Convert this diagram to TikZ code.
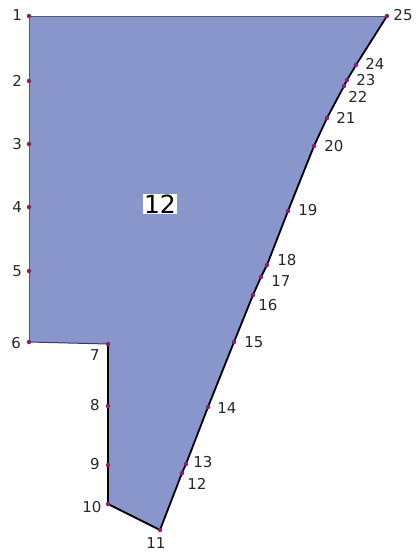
\documentclass[tikz,border=0pt]{standalone}
\usepackage{fontspec}
\setmainfont{DejaVu Sans}
\begin{document}
\begin{tikzpicture}[x=1pt,y=-1pt,
  dot/.style={circle,fill=dotc,inner sep=0pt,minimum size=4.5pt},
  lab/.style={font=\fontsize{15}{15}\selectfont,text=labc,inner sep=1pt}]
\definecolor{fillc}{RGB}{136,150,204}
\definecolor{dotc}{RGB}{140,30,110}
\definecolor{labc}{RGB}{40,40,40}
\useasboundingbox (0,0) rectangle (417,552);
% vertices
\coordinate (p1) at (29,16);
\coordinate (p2) at (29,81);
\coordinate (p3) at (29,144);
\coordinate (p4) at (29,207);
\coordinate (p5) at (29,271);
\coordinate (p6) at (29,342);
\coordinate (p7) at (108,344);
\coordinate (p8) at (108,406);
\coordinate (p9) at (108,465);
\coordinate (p10) at (108,504);
\coordinate (p11) at (160,530);
\coordinate (p12) at (182,473);
\coordinate (p13) at (186,464);
\coordinate (p14) at (208,407);
\coordinate (p15) at (234,342);
\coordinate (p16) at (253,295);
\coordinate (p17) at (261,277);
\coordinate (p18) at (267,265);
\coordinate (p19) at (288,211);
\coordinate (p20) at (314,146);
\coordinate (p21) at (327,118);
\coordinate (p22) at (344,86);
\coordinate (p23) at (347,80);
\coordinate (p24) at (356,65);
\coordinate (p25) at (387,16);
\fill[fillc] (p1) -- (p6) -- (p7) -- (p10) -- (p11) -- (p12) -- (p13) -- (p14)
  -- (p15) -- (p16) -- (p17) -- (p18) -- (p19) -- (p20) -- (p21) -- (p22)
  -- (p23) -- (p24) -- (p25) -- cycle;
\draw[line width=0.9pt,draw={rgb,255:red,80;green,90;blue,120}] (p25) -- (p1) -- (p6);
\draw[line width=1pt,draw={rgb,255:red,60;green,60;blue,80}] (p6) -- (p7);
\draw[line width=1.8pt,black,line join=round] (p7) -- (p10) -- (p11) -- (p12) -- (p13) -- (p14)
  -- (p15) -- (p16) -- (p17) -- (p18) -- (p19) -- (p20) -- (p21) -- (p22)
  -- (p23) -- (p24) -- (p25);
\foreach \i in {1,...,25} {\node[dot] (d\i) at (p\i) {};}
\node[fill=white,inner sep=1pt,font=\fontsize{25}{25}\selectfont] (c12) at (160,204) {12};
% labels
\node[lab,anchor=east] (l1) at (23,15) {1};
\node[lab,anchor=east] (l2) at (23,81) {2};
\node[lab,anchor=east] (l3) at (23,144) {3};
\node[lab,anchor=east] (l4) at (23,207) {4};
\node[lab,anchor=east] (l5) at (23,271) {5};
\node[lab,anchor=east] (l6) at (22,343) {6};
\node[lab] (l7) at (95,355) {7};
\node[lab] (l8) at (95,405) {8};
\node[lab] (l9) at (95,464) {9};
\node[lab] (l10) at (92,507) {10};
\node[lab] (l11) at (156,543) {11};
\node[lab] (l12) at (197,484) {12};
\node[lab] (l13) at (203,462) {13};
\node[lab] (l14) at (227,408) {14};
\node[lab] (l15) at (254,342) {15};
\node[lab] (l16) at (268,305) {16};
\node[lab] (l17) at (281,281) {17};
\node[lab] (l18) at (287,260) {18};
\node[lab] (l19) at (308,210) {19};
\node[lab] (l20) at (334,146) {20};
\node[lab] (l21) at (346,118) {21};
\node[lab] (l22) at (358,97) {22};
\node[lab] (l23) at (366,80) {23};
\node[lab] (l24) at (375,64) {24};
\node[lab] (l25) at (403,15) {25};
\end{tikzpicture}
\end{document}
